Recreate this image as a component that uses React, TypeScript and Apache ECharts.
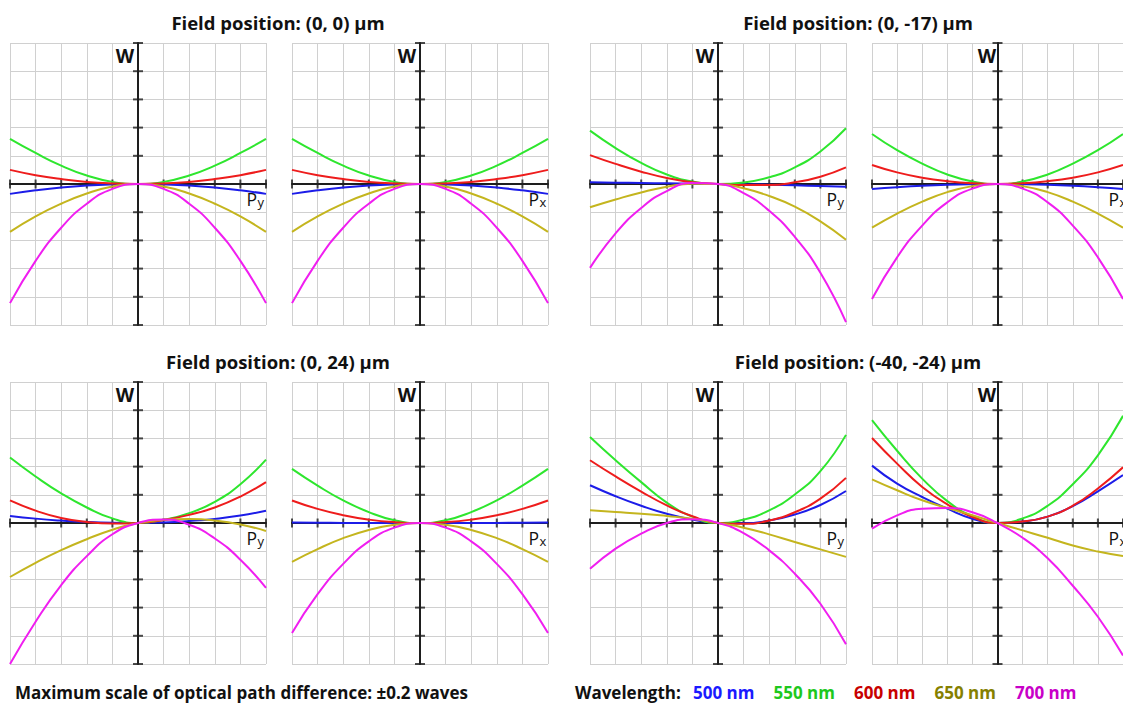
import React, { useEffect, useRef } from "react";
import * as echarts from "echarts";

// ---------- data ----------
const pupil = [-1, -0.8, -0.6, -0.4, -0.2, 0, 0.2, 0.4, 0.6, 0.8, 1];
const xTickValues = [-1, -0.8, -0.6, -0.4, -0.2, 0.2, 0.4, 0.6, 0.8, 1];
const yTickValues = [-0.2, -0.16, -0.12, -0.08, -0.04, 0.04, 0.08, 0.12, 0.16, 0.2];

const wavelengths = ["500 nm", "550 nm", "600 nm", "650 nm", "700 nm"];
const lineColors = ["#1c1ce8", "#2ee62e", "#ee1c1c", "#c4b51e", "#f01ef0"];
const legendColors = ["#1a1aff", "#1ec81e", "#c80000", "#858000", "#c800c8"];

const fieldTitles = [
  "Field position: (0, 0) µm",
  "Field position: (0, -17) µm",
  "Field position: (0, 24) µm",
  "Field position: (-40, -24) µm",
];
const pupilAxisNames = ["y", "x", "y", "x", "y", "x", "y", "x"];

// each panel: [500, 550, 600, 650, 700] nm, W in waves at the pupil points
const field00Py = [
  [-0.014, -0.009, -0.005, -0.0022, -0.0006, 0, -0.0006, -0.0022, -0.005, -0.009, -0.014],
  [0.064, 0.044, 0.026, 0.012, 0.003, 0, 0.003, 0.012, 0.026, 0.044, 0.064],
  [0.02, 0.0125, 0.007, 0.003, 0.0008, 0, 0.0008, 0.003, 0.007, 0.0125, 0.02],
  [-0.068, -0.046, -0.028, -0.0135, -0.0035, 0, -0.0035, -0.0135, -0.028, -0.046, -0.068],
  [-0.169, -0.109, -0.062, -0.028, -0.007, 0, -0.007, -0.028, -0.062, -0.109, -0.169],
];
const field00Px = [
  [-0.014, -0.009, -0.005, -0.0022, -0.0006, 0, -0.0006, -0.0022, -0.005, -0.009, -0.014],
  [0.064, 0.044, 0.026, 0.012, 0.003, 0, 0.003, 0.012, 0.026, 0.044, 0.064],
  [0.02, 0.0125, 0.007, 0.003, 0.0008, 0, 0.0008, 0.003, 0.007, 0.0125, 0.02],
  [-0.068, -0.046, -0.028, -0.0135, -0.0035, 0, -0.0035, -0.0135, -0.028, -0.046, -0.068],
  [-0.169, -0.109, -0.062, -0.028, -0.007, 0, -0.007, -0.028, -0.062, -0.109, -0.169],
];
const field17Py = [
  [0.0024, 0.0019, 0.0014, 0.001, 0.0005, 0, -0.0005, -0.001, -0.0019, -0.0028, -0.0038],
  [0.0757, 0.051, 0.03, 0.0135, 0.0035, 0, 0.0022, 0.0095, 0.0235, 0.046, 0.079],
  [0.041, 0.0285, 0.0175, 0.0085, 0.0025, 0, -0.0014, -0.0014, 0.0024, 0.0104, 0.0237],
  [-0.033, -0.022, -0.012, -0.004, 0.0005, 0, -0.006, -0.017, -0.032, -0.053, -0.079],
  [-0.119, -0.07, -0.034, -0.01, 0.0015, 0, -0.013, -0.038, -0.075, -0.126, -0.196],
];
const field17Px = [
  [-0.007, -0.0045, -0.0025, -0.0011, -0.0003, 0, -0.0003, -0.0011, -0.0025, -0.0045, -0.007],
  [0.071, 0.048, 0.029, 0.0135, 0.0035, 0, 0.0035, 0.0135, 0.029, 0.048, 0.071],
  [0.027, 0.0165, 0.009, 0.004, 0.001, 0, 0.001, 0.004, 0.009, 0.0165, 0.027],
  [-0.062, -0.042, -0.025, -0.0115, -0.003, 0, -0.003, -0.0115, -0.025, -0.042, -0.062],
  [-0.163, -0.104, -0.059, -0.026, -0.0065, 0, -0.0065, -0.026, -0.059, -0.104, -0.163],
];
const field24Py = [
  [0.01, 0.0062, 0.0034, 0.0014, 0.0003, 0, 0.0008, 0.0028, 0.0058, 0.0105, 0.0175],
  [0.0928, 0.066, 0.042, 0.022, 0.0065, 0, 0.0045, 0.014, 0.03, 0.055, 0.09],
  [0.032, 0.0175, 0.0072, 0.0015, -0.0008, 0, 0.0042, 0.0115, 0.022, 0.0375, 0.058],
  [-0.0766, -0.0565, -0.0385, -0.023, -0.0095, 0, 0.0045, 0.0055, 0.0035, -0.002, -0.0114],
  [-0.2, -0.14, -0.088, -0.047, -0.016, 0, 0.0048, -0.0025, -0.022, -0.052, -0.092],
];
const field24Px = [
  [0.0006, 0.0003, 0.0001, 0, 0, 0, 0, 0, 0.0001, 0.0003, 0.0006],
  [0.0767, 0.053, 0.032, 0.0155, 0.004, 0, 0.004, 0.0155, 0.032, 0.053, 0.0767],
  [0.032, 0.02, 0.011, 0.0048, 0.0012, 0, 0.0012, 0.0048, 0.011, 0.02, 0.032],
  [-0.055, -0.037, -0.0215, -0.0098, -0.0025, 0, -0.0025, -0.0098, -0.0215, -0.037, -0.055],
  [-0.156, -0.101, -0.058, -0.026, -0.0065, 0, -0.0065, -0.026, -0.058, -0.101, -0.156],
];
const field40Py = [
  [0.0535, 0.038, 0.0245, 0.013, 0.0048, 0, -0.0004, 0.0035, 0.012, 0.0255, 0.0454],
  [0.122, 0.089, 0.058, 0.029, 0.009, 0, 0.0048, 0.018, 0.0405, 0.0735, 0.125],
  [0.089, 0.066, 0.0445, 0.025, 0.0095, 0, -0.0012, 0.0035, 0.0152, 0.0345, 0.064],
  [0.018, 0.0156, 0.0132, 0.0099, 0.0061, 0, -0.0066, -0.0161, -0.027, -0.0374, -0.048],
  [-0.065, -0.0364, -0.0151, 0, 0.0052, 0, -0.0142, -0.0388, -0.0719, -0.1145, -0.172],
];
const field40Px = [
  [0.0814, 0.0558, 0.0369, 0.0203, 0.0061, 0, 0.002, 0.009, 0.024, 0.045, 0.068],
  [0.146, 0.1025, 0.063, 0.031, 0.0095, 0, 0.0065, 0.0245, 0.055, 0.096, 0.152],
  [0.1206, 0.0842, 0.0511, 0.0265, 0.0085, 0, 0.002, 0.009, 0.0245, 0.049, 0.079],
  [0.062, 0.0464, 0.0322, 0.0213, 0.0109, 0, -0.0105, -0.021, -0.032, -0.0405, -0.047],
  [-0.008, 0.0109, 0.0203, 0.0213, 0.0152, 0, -0.021, -0.05, -0.089, -0.133, -0.188],
];

const panels = [field00Py, field00Px, field17Py, field17Px, field24Py, field24Px, field40Py, field40Px];

const noteText = "Maximum scale of optical path difference: ±0.2 waves";
const legendTitle = "Wavelength:";

// ---------- layout ----------
const FONT = "'Open Sans', 'Noto Sans', sans-serif";
const colLefts = [10, 292, 590, 872];
const rowTops = [43, 382];
const PW = 256;
const PH = 282;

export default function App() {
  const ref = useRef<HTMLDivElement>(null);

  useEffect(() => {
    if (!ref.current) return;
    const chart = echarts.init(ref.current, undefined, { renderer: "svg" });

    const grids: any[] = [];
    const xAxes: any[] = [];
    const yAxes: any[] = [];
    const series: any[] = [];
    const graphic: any[] = [];

    panels.forEach((panel, i) => {
      const left = colLefts[i % 4];
      const top = rowTops[Math.floor(i / 4)];
      grids.push({ left, top, width: PW, height: PH });
      xAxes.push({
        type: "value",
        gridIndex: i,
        min: -1,
        max: 1,
        interval: 0.2,
        axisLabel: { show: false },
        axisTick: { show: false },
        axisLine: { show: true, onZero: true, lineStyle: { color: "#1e1e1e", width: 2 } },
        splitLine: { show: true, lineStyle: { color: "#d0d0d0", width: 1 } },
      });
      yAxes.push({
        type: "value",
        gridIndex: i,
        min: -0.2,
        max: 0.2,
        interval: 0.04,
        axisLabel: { show: false },
        axisTick: { show: false },
        axisLine: { show: true, onZero: true, lineStyle: { color: "#1e1e1e", width: 2 } },
        splitLine: { show: true, lineStyle: { color: "#d0d0d0", width: 1 } },
      });
      // tick marks on the centred axes
      series.push({
        type: "scatter",
        xAxisIndex: i,
        yAxisIndex: i,
        silent: true,
        clip: false,
        z: 1,
        symbol: "rect",
        symbolSize: [2, 9],
        itemStyle: { color: "#1e1e1e" },
        data: xTickValues.map((v) => [v, 0]),
      });
      series.push({
        type: "scatter",
        xAxisIndex: i,
        yAxisIndex: i,
        silent: true,
        clip: false,
        z: 1,
        symbol: "rect",
        symbolSize: [10, 2],
        itemStyle: { color: "#1e1e1e" },
        data: yTickValues.map((v) => [0, v]),
      });
      panel.forEach((vals, k) => {
        series.push({
          type: "line",
          name: wavelengths[k],
          xAxisIndex: i,
          yAxisIndex: i,
          z: 2,
          smooth: 0.5,
          clip: false,
          showSymbol: false,
          silent: true,
          lineStyle: { color: lineColors[k], width: 2 },
          data: pupil.map((x, j) => [x, vals[j]]),
        });
      });

      const cx = left + PW / 2;
      const cy = top + PH / 2;
      graphic.push({
        type: "text",
        x: cx - 4,
        y: top + 13,
        style: { text: "W", font: `bold 19px ${FONT}`, fill: "#111", align: "right", verticalAlign: "middle" },
      });
      graphic.push({
        type: "text",
        x: left + PW - 9,
        y: cy + 14.5,
        style: { text: "P", font: `17.5px ${FONT}`, fill: "#111", align: "right", verticalAlign: "middle" },
      });
      graphic.push({
        type: "text",
        x: left + PW - 8.5,
        y: cy + 18,
        style: { text: pupilAxisNames[i], font: `13px ${FONT}`, fill: "#111", align: "left", verticalAlign: "middle" },
      });
    });

    fieldTitles.forEach((t, f) => {
      const col = (f % 2) * 2;
      const row = Math.floor(f / 2);
      const cx = (colLefts[col] + colLefts[col + 1] + PW) / 2 - 1;
      graphic.push({
        type: "text",
        x: cx,
        y: rowTops[row] - 21,
        style: { text: t, font: `bold 18.5px ${FONT}`, fill: "#111", align: "center", verticalAlign: "middle" },
      });
    });

    graphic.push({
      type: "text",
      x: 15,
      y: 692,
      style: { text: noteText, font: `bold 17px ${FONT}`, fill: "#111", align: "left", verticalAlign: "middle" },
    });
    graphic.push({
      type: "text",
      x: 575,
      y: 692,
      style: { text: legendTitle, font: `bold 17px ${FONT}`, fill: "#111", align: "left", verticalAlign: "middle" },
    });
    wavelengths.forEach((w, k) => {
      graphic.push({
        type: "text",
        x: 693 + k * 80.5,
        y: 692,
        style: { text: w, font: `bold 17px ${FONT}`, fill: legendColors[k], align: "left", verticalAlign: "middle" },
      });
    });

    chart.setOption({
      animation: false,
      backgroundColor: "#ffffff",
      grid: grids,
      xAxis: xAxes,
      yAxis: yAxes,
      series,
      graphic,
    });

    return () => chart.dispose();
  }, []);

  return (
    <div
      ref={ref}
      style={{ position: "fixed", left: 0, top: 0, width: 1123, height: 708, background: "#fff" }}
    />
  );
}
